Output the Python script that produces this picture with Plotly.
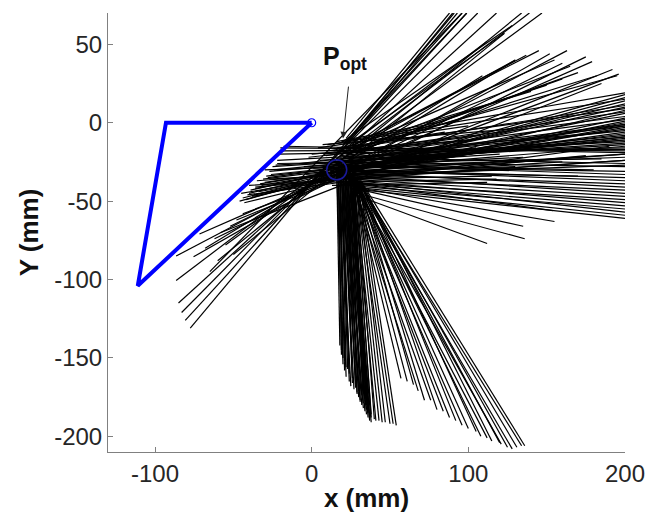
import plotly.graph_objects as go

# ---------------- data ----------------
# blue linkage triangle
tri_x = [0, -93, -111, 0]
tri_y = [0, 0, -104, 0]
pivot_x = [0]
pivot_y = [0]
popt_circle_x = [16]
popt_circle_y = [-30]

# diagonal lines: lower-left end -> upper-right end
diag_x0 = [-77.5, -80.7, -83, -85, -86.5, -86.5, -75.4, -71.6, -60, -55, -65, -48, -68, -58, -50, -62, -44, -52]
diag_y0 = [-131, -126, -121, -115, -100.6, -85, -85.5, -71, -88, -78, -95, -62, -80, -70, -84, -74, -58, -66]
diag_x1 = [91, 99, 106, 118, 139, 163, 152, 179, 134, 147, 96, 192, 130, 185, 123, 175, 196, 160]
diag_y1 = [70, 70, 70, 70, 70, 46, 44, 39, 70, 70, 70, 34, 40, 25, 57, 42, 31, 38]

# upper-right lines starting near the optimum
ur_x0 = [22, 24, 20, 26, 25, 23, 28, 22, 25, 27, 24, 21, 26, 23, 24, 22, 27, 25, 20, 23]
ur_y0 = [-10, -12, -14, -12, -15, -18, -16, -20, -22, -19, -20, -13, -17, -15, -11, -16, -14, -18, -12, -17]
ur_x1 = [88, 93, 96, 123, 137, 130, 195, 182, 109, 170, 160, 99, 150, 140, 90, 112, 145, 165, 128, 155]
ur_y1 = [70, 70, 70, 57, 43, 40, 30, 30, 30, 32, 28, 70, 24, 20, 70, 52, 46, 36, 62, 40]

# horizontal lines from the left cluster to the right edge
hl_x0 = [-46, -44, -43, -40, -38, -36, -34, -32, -30, -28, -26, -24, -23, -22, -21, -20, -35, -40, -45, -30,
         -42, -39, -37, -33, -31, -29, -27, -25, -19, -18, -41, -36, -27, -22]
hl_y0 = [-50, -48, -51, -45, -47, -42, -44, -40, -38, -35, -33, -30, -27, -24, -20, -16, -37, -40, -45, -30,
         -49, -43, -46, -39, -36, -34, -31, -28, -18, -15, -46, -41, -36, -26]
hl_x1 = [200, 200, 200, 200, 200, 200, 200, 200, 200, 200, 200, 200, 200, 200, 200, 200, 200, 200, 200, 200,
         200, 200, 200, 200, 200, 200, 200, 200, 200, 200, 190, 175, 160, 185]
hl_y1 = [18, 14, 8, 12, 3, 6, -2, 0, -6, -4, -10, -8, -14, -12, -16, -18, -20, -24, -3, -22,
         16, 10, 1, -1, -7, -9, -11, -13, -17, -19, -15, -21, -25, -23]

# lines from the optimum to the right edge / lower right
hr_x0 = [20, 22, 18, 24, 20, 25, 22, 26, 20, 28, 24, 22, 26, 28, 24, 30, 27, 25, 29, 27, 28, 26, 25,
         10, 14, 8, 12, 16, 5, 18, 11, 15, 6, 13, 19, 9, 17, 21, 23, 15, 12, 18]
hr_y0 = [-22, -25, -28, -27, -30, -30, -33, -32, -35, -34, -36, -38, -37, -39, -40, -38, -41, -42, -39, -41, -42, -44, -45,
         -14, -18, -20, -24, -16, -26, -22, -28, -30, -32, -34, -12, -36, -25, -19, -23, -27, -31, -21]
hr_x1 = [200, 200, 200, 200, 200, 200, 200, 200, 200, 200, 200, 200, 200, 200, 200, 200, 200, 200, 154, 155, 135, 136, 112,
         200, 200, 200, 200, 200, 200, 200, 200, 200, 200, 200, 200, 200, 200, 200, 200, 180, 170, 188]
hr_y1 = [-26, -28, -31, -33, -35, -37, -39, -41, -43, -45, -47, -49, -51, -53, -55, -57, -59, -61, -56, -63, -66, -74, -77,
         15, 11, 4, -5, 9, -2, 2, -9, -15, -20, -27, 19, -24, -11, 7, -1, -30, -34, -6]

# short dense strokes in the core of the horizontal band
core_x0 = [0, 5, -5, 10, 2, 8, -2, 12, 4, 14, 6, 16, -8, 1, 9, 3, 11, 7, -4, 13]
core_y0 = [-20, -24, -28, -18, -32, -26, -22, -30, -16, -36, -34, -12, -26, -29, -21, -38, -25, -14, -33, -40]
core_x1 = [110, 95, 120, 85, 130, 105, 90, 140, 100, 115, 125, 80, 98, 135, 108, 118, 92, 128, 102, 112]
core_y1 = [-10, -18, -20, -6, -28, -16, -12, -24, -2, -34, -30, 0, -14, -22, -8, -36, -19, -4, -26, -38]

# near-vertical dense band
vb_x0 = [16, 17, 16, 18, 17, 19, 18, 20, 19, 21, 20, 22, 21, 23, 22, 24, 23, 25, 24, 26, 25, 27, 26, 27, 28, 26, 27, 28, 29, 28, 29, 30,
         17, 18, 19, 20, 21, 22, 23, 24, 25, 26, 18, 20, 22, 24, 26, 19, 21, 23, 25, 27]
vb_y0 = [-28, -30, -32, -28, -34, -30, -35, -32, -36, -30, -34, -36, -38, -32, -34, -36, -38, -34, -30, -36, -38, -34, -32, -36, -33, -30, -38, -35, -34, -37, -36, -35,
         -26, -27, -29, -31, -33, -35, -37, -28, -31, -34, -33, -37, -29, -33, -28, -25, -27, -30, -32, -31]
vb_x1 = [18, 19, 20, 21, 22, 24, 25, 27, 29, 30, 31, 32, 33, 34, 35, 36, 37, 37, 38, 36, 35, 34, 33, 38, 40, 41, 43, 45, 47, 50, 52, 54,
         19, 21, 23, 26, 28, 30, 32, 34, 36, 37, 20, 24, 28, 31, 35, 22, 26, 29, 33, 38]
vb_y1 = [-142, -148, -154, -158, -162, -165, -168, -170, -172, -175, -178, -180, -182, -184, -186, -188, -189, -190, -191, -185, -180, -176, -170, -186, -189, -190, -190, -191, -191, -192, -192, -193,
         -145, -152, -157, -163, -167, -171, -174, -178, -182, -187, -150, -160, -169, -177, -183, -156, -166, -173, -179, -188]

# down-right fan
dr_x0 = [26, 27, 28, 26, 29, 27, 30, 28, 29, 31, 27, 30, 32, 28, 29, 31, 30, 28, 32, 29, 30, 31, 32]
dr_y0 = [-34, -36, -35, -38, -36, -40, -37, -39, -41, -38, -35, -40, -39, -37, -42, -36, -38, -40, -41, -39, -37, -40, -38]
dr_x1 = [57, 61, 65, 68, 72, 76, 80, 84, 88, 92, 96, 100, 105, 108, 112, 115, 120, 121, 125, 128, 131, 134, 136]
dr_y1 = [-163, -165, -167, -171, -177, -177, -183, -184, -188, -190, -193, -195, -197, -200, -201, -203, -204, -205, -207, -208, -207, -206, -206]

x_ticks = [-100, 0, 100, 200]
x_tick_labels = ["-100", "0", "100", "200"]
y_ticks = [-200, -150, -100, -50, 0, 50]
y_tick_labels = ["-200", "-150", "-100", "-50", "0", "50"]


def segments(x0, y0, x1, y1):
    xs, ys = [], []
    for a, b, c, d in zip(x0, y0, x1, y1):
        xs += [a, c, None]
        ys += [b, d, None]
    return xs, ys


fig = go.Figure()

groups = [
    (hl_x0, hl_y0, hl_x1, hl_y1),
    (hr_x0, hr_y0, hr_x1, hr_y1),
    (core_x0, core_y0, core_x1, core_y1),
    (diag_x0, diag_y0, diag_x1, diag_y1),
    (ur_x0, ur_y0, ur_x1, ur_y1),
    (vb_x0, vb_y0, vb_x1, vb_y1),
    (dr_x0, dr_y0, dr_x1, dr_y1),
]
for g in groups:
    xs, ys = segments(*g)
    fig.add_trace(go.Scatter(x=xs, y=ys, mode="lines",
                             line=dict(color="black", width=1.2),
                             hoverinfo="skip", showlegend=False))

fig.add_trace(go.Scatter(x=tri_x, y=tri_y, mode="lines",
                         line=dict(color="#0000ff", width=4),
                         showlegend=False))
fig.add_trace(go.Scatter(x=pivot_x, y=pivot_y, mode="markers",
                         marker=dict(symbol="circle-open", size=8, color="#0000ff",
                                     line=dict(width=1.2, color="#0000ff")),
                         showlegend=False))
fig.add_trace(go.Scatter(x=popt_circle_x, y=popt_circle_y, mode="markers",
                         marker=dict(symbol="circle-open", size=20, color="#1a1a9c",
                                     line=dict(width=1.5, color="#1a1a9c")),
                         showlegend=False))

fig.add_annotation(x=20, y=-10, ax=23.6, ay=24, axref="x", ayref="y",
                   xref="x", yref="y", text="", showarrow=True,
                   arrowhead=2, arrowsize=1.3, arrowwidth=1, arrowcolor="#222")
fig.add_annotation(x=6, y=30, xref="x", yref="y", xanchor="left", yanchor="bottom",
                   text="<b>P<sub>opt</sub></b>", showarrow=False,
                   font=dict(family="Liberation Sans, Arial", size=25, color="#111"))

axis_common = dict(showline=True, linecolor="#808080", linewidth=1,
                   ticks="inside", ticklen=5, tickcolor="#808080",
                   showgrid=False, zeroline=False, mirror=False,
                   tickfont=dict(family="Liberation Sans, Arial", size=24, color="#262626"))

fig.update_xaxes(range=[-130, 200], tickvals=x_ticks, ticktext=x_tick_labels,
                 title=dict(text="<b>x (mm)</b>", standoff=4,
                            font=dict(family="Liberation Sans, Arial", size=26, color="#111")),
                 **axis_common)
fig.update_yaxes(range=[-210, 70], tickvals=y_ticks, ticktext=y_tick_labels,
                 title=dict(text="<b>Y (mm)</b>", standoff=8,
                            font=dict(family="Liberation Sans, Arial", size=26, color="#111")),
                 **axis_common)

fig.update_layout(width=653, height=513,
                  margin=dict(l=108, r=28, t=13, b=61, autoexpand=False),
                  plot_bgcolor="white", paper_bgcolor="white",
                  showlegend=False)

fig.write_html("out.html", config={"displayModeBar": False})

# remove the browser's default page margin so the figure fills the window
with open("out.html", "r", encoding="utf-8") as f:
    html = f.read()
html = html.replace("<head>", "<head><style>html,body{margin:0;padding:0;overflow:hidden;}</style>", 1)
with open("out.html", "w", encoding="utf-8") as f:
    f.write(html)
